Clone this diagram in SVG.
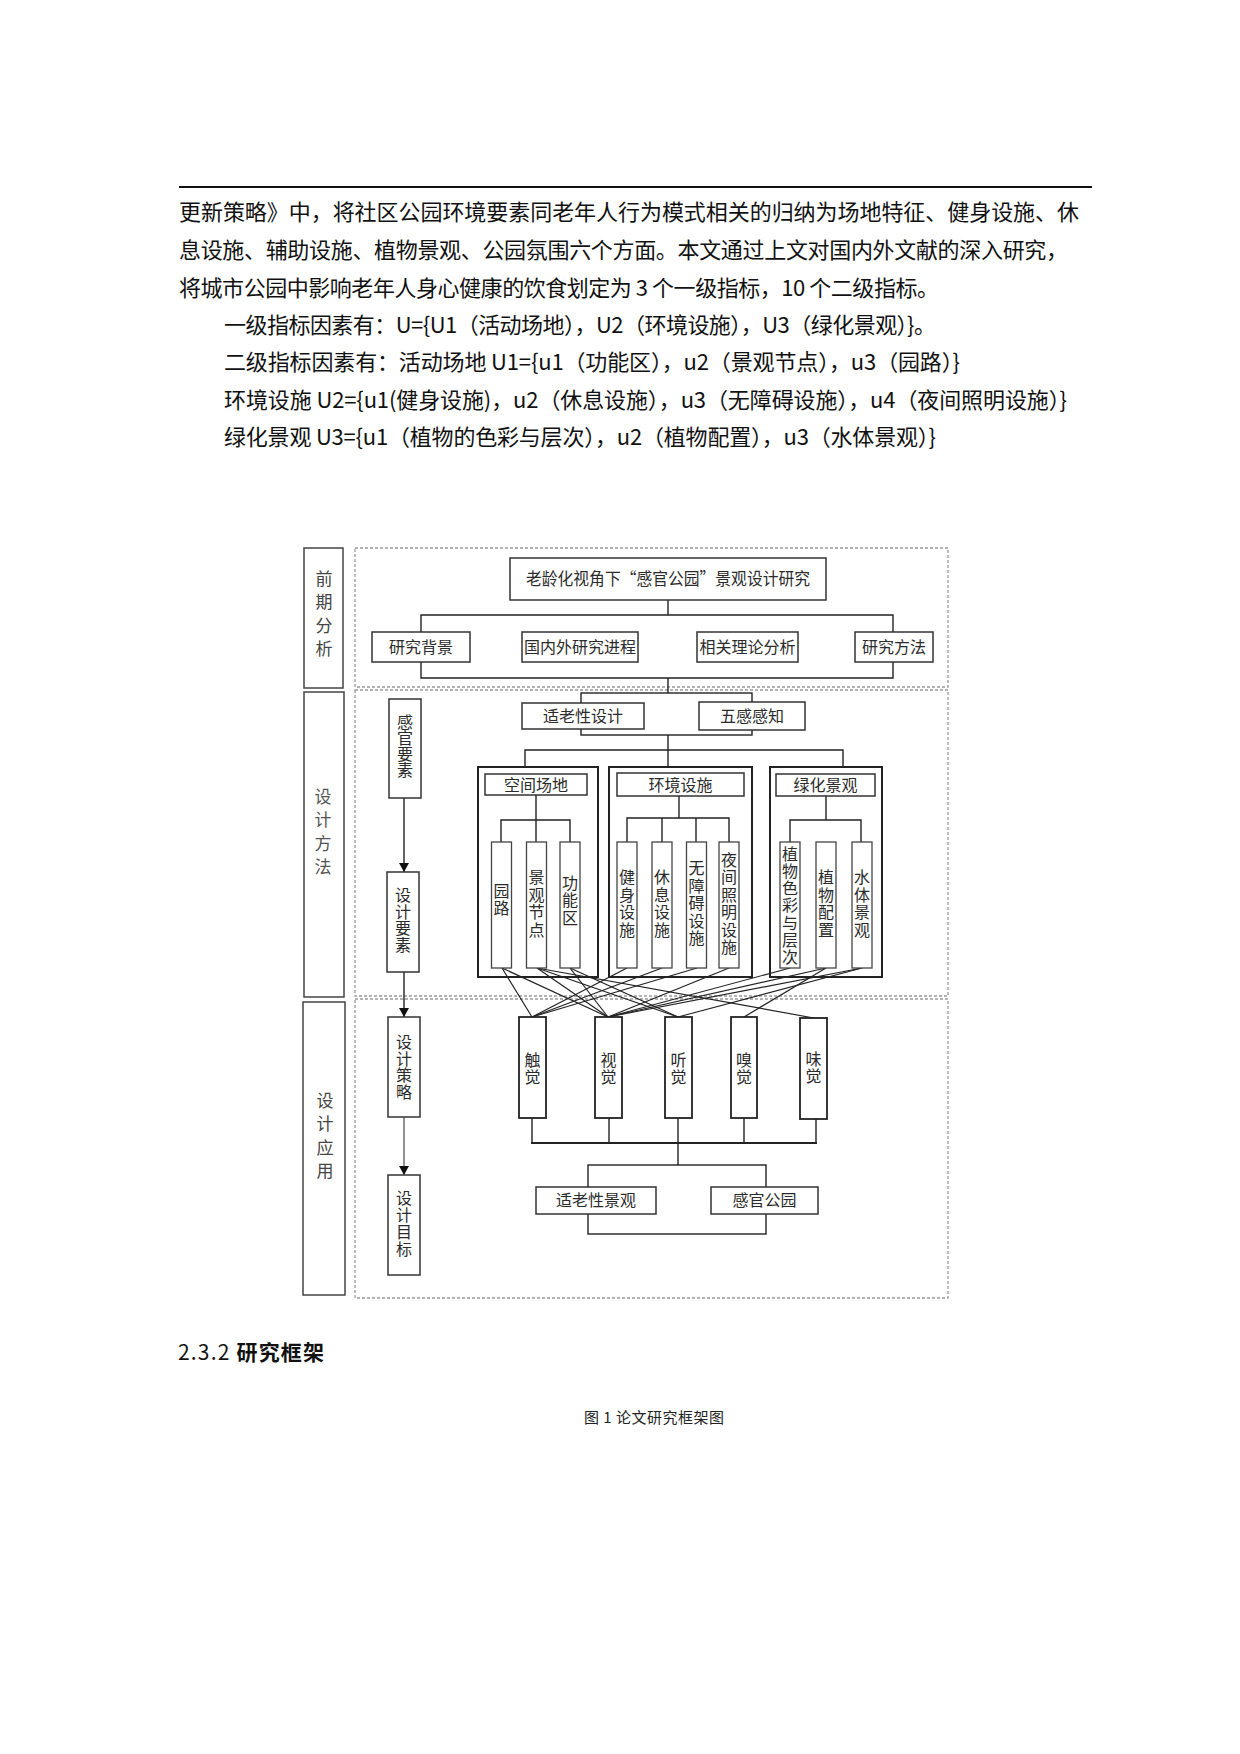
<svg xmlns="http://www.w3.org/2000/svg" width="1240" height="1754" viewBox="0 0 1240 1754">
<style>
.p{font-family:"Noto Sans CJK SC","Noto Sans",sans-serif;font-size:22px;fill:#111}
.t{font-family:"Noto Sans CJK SC","Noto Sans",sans-serif;font-size:16px;fill:#2b2b2b;text-anchor:middle}
.v{font-family:"Noto Sans CJK SC","Noto Sans",sans-serif;font-size:16px;fill:#2b2b2b;text-anchor:middle;writing-mode:vertical-rl;letter-spacing:1.5px}
.lab{font-family:"Noto Sans CJK SC","Noto Sans",sans-serif;font-size:17px;fill:#444;text-anchor:middle;writing-mode:vertical-rl;letter-spacing:6.5px}
.box{fill:#fff;stroke:#333;stroke-width:1.5}
.sub{fill:#fff;stroke:#444;stroke-width:1.3}
.grp{fill:none;stroke:#222;stroke-width:2}
.sense{fill:#fff;stroke:#222;stroke-width:1.8}
.side{fill:none;stroke:#444;stroke-width:1.5}
.dash{fill:none;stroke:#9a9a9a;stroke-width:1.3;stroke-dasharray:3 2}
.ln{fill:none;stroke:#222;stroke-width:1.4}
.x{fill:none;stroke:#222;stroke-width:1.2}
</style>
<defs>
<marker id="ah" markerWidth="9" markerHeight="10" refX="9" refY="5" orient="auto" markerUnits="userSpaceOnUse" viewBox="0 0 9 10">
<path d="M0,0 L9,5 L0,10 Z" fill="#111"/>
</marker>
</defs>
<rect x="0" y="0" width="1240" height="1754" fill="#fff"/>

<g id="paragraph">
<line x1="179" y1="187" x2="1092" y2="187" stroke="#111" stroke-width="2"/>
<text class="p" x="179" y="220" textLength="900" lengthAdjust="spacing">更新策略》中，将社区公园环境要素同老年人行为模式相关的归纳为场地特征、健身设施、休</text>
<text class="p" x="179" y="258" textLength="889" lengthAdjust="spacing">息设施、辅助设施、植物景观、公园氛围六个方面。本文通过上文对国内外文献的深入研究，</text>
<text class="p" x="179" y="296" textLength="760" lengthAdjust="spacing">将城市公园中影响老年人身心健康的饮食划定为 3 个一级指标，10 个二级指标。</text>
<text class="p" x="224" y="333" textLength="712" lengthAdjust="spacing">一级指标因素有：U={U1（活动场地），U2（环境设施），U3（绿化景观）}。</text>
<text class="p" x="224" y="370" textLength="736" lengthAdjust="spacing">二级指标因素有：活动场地 U1={u1（功能区），u2（景观节点），u3（园路）}</text>
<text class="p" x="224" y="408" textLength="843" lengthAdjust="spacing">环境设施 U2={u1(健身设施)，u2（休息设施），u3（无障碍设施），u4（夜间照明设施）}</text>
<text class="p" x="224" y="445" textLength="712" lengthAdjust="spacing">绿化景观 U3={u1（植物的色彩与层次），u2（植物配置），u3（水体景观）}</text>
</g>

<g id="sections">
<rect class="dash" x="355" y="548" width="593" height="139"/>
<rect class="dash" x="355" y="690" width="593" height="306"/>
<rect class="dash" x="355" y="999" width="593" height="299"/>
</g>

<g id="stage-qianqi">
<rect class="side" x="304" y="548" width="39" height="140"/>
<text class="lab" x="324" y="617">前期分析</text>
</g>
<g id="stage-sheji-fangfa">
<rect class="side" x="304" y="692" width="40" height="305"/>
<text class="lab" x="323" y="835" style="fill:#555">设计方法</text>
</g>
<g id="stage-sheji-yingyong">
<rect class="side" x="303" y="1002" width="42" height="293"/>
<text class="lab" x="325" y="1139">设计应用</text>
</g>

<g id="connectors">
<line class="ln" x1="668" y1="600" x2="668" y2="615"/>
<polyline class="ln" points="421,632 421,615 893,615 893,632"/>
<polyline class="ln" points="421,662 421,678 893,678 893,662"/>
<line class="ln" x1="668" y1="678" x2="668" y2="693"/>
<rect class="ln" x="581" y="693" width="171" height="42"/>
<line class="ln" x1="668" y1="735" x2="668" y2="750"/>
<polyline class="ln" points="525,767 525,750 843,750 843,767"/>
<line class="ln" x1="668" y1="750" x2="668" y2="767"/>
<line class="ln" x1="536" y1="795" x2="536" y2="842"/>
<polyline class="ln" points="501,842 501,820 570,820 570,842"/>
<line class="ln" x1="679" y1="796" x2="679" y2="818"/>
<polyline class="ln" points="627,842 627,818 729,818 729,842"/>
<line class="ln" x1="662" y1="818" x2="662" y2="842"/>
<line class="ln" x1="696" y1="818" x2="696" y2="842"/>
<line class="ln" x1="826" y1="796" x2="826" y2="820"/>
<polyline class="ln" points="790,842 790,820 861,820 861,842"/>
<line class="ln" x1="404" y1="798" x2="404" y2="872" marker-end="url(#ah)"/>
<line class="ln" x1="404" y1="972" x2="404" y2="1017" marker-end="url(#ah)"/>
<line x1="404" y1="1117" x2="404" y2="1175" stroke="#777" stroke-width="1.6" marker-end="url(#ah)"/>
<line class="x" x1="502" y1="968" x2="532" y2="1017"/>
<line class="x" x1="502" y1="968" x2="608" y2="1017"/>
<line class="x" x1="537" y1="968" x2="608" y2="1017"/>
<line class="x" x1="537" y1="968" x2="678" y2="1017"/>
<line class="x" x1="537" y1="968" x2="814" y2="1018"/>
<line class="x" x1="570" y1="968" x2="608" y2="1017"/>
<line class="x" x1="570" y1="968" x2="678" y2="1017"/>
<line class="x" x1="627" y1="968" x2="532" y2="1017"/>
<line class="x" x1="662" y1="968" x2="532" y2="1017"/>
<line class="x" x1="697" y1="968" x2="532" y2="1017"/>
<line class="x" x1="729" y1="968" x2="608" y2="1017"/>
<line class="x" x1="790" y1="968" x2="608" y2="1017"/>
<line class="x" x1="826" y1="968" x2="608" y2="1017"/>
<line class="x" x1="826" y1="968" x2="744" y2="1017"/>
<line class="x" x1="862" y1="968" x2="608" y2="1017"/>
<line class="x" x1="862" y1="968" x2="678" y2="1017"/>
<line class="ln" x1="532" y1="1118" x2="532" y2="1143"/>
<line class="ln" x1="609" y1="1118" x2="609" y2="1143"/>
<line class="ln" x1="678" y1="1118" x2="678" y2="1165"/>
<line class="ln" x1="744" y1="1118" x2="744" y2="1143"/>
<line class="ln" x1="816" y1="1119" x2="816" y2="1143"/>
<line x1="531" y1="1143" x2="817" y2="1143" stroke="#222" stroke-width="2.2"/>
<rect class="ln" x="588" y="1165" width="178" height="69"/>
</g>

<g id="n-title">
<rect class="box" x="510" y="558" width="316" height="42"/>
<text class="t" x="668" y="585" style="font-size:17px" textLength="284" lengthAdjust="spacingAndGlyphs">老龄化视角下“感官公园”景观设计研究</text>
</g>
<g id="n-bg"><rect class="box" x="372" y="632" width="98" height="30"/><text class="t" x="421" y="653">研究背景</text></g>
<g id="n-prog"><rect class="box" x="522" y="632" width="116" height="30"/><text class="t" x="580" y="653">国内外研究进程</text></g>
<g id="n-theory"><rect class="box" x="697" y="632" width="101" height="30"/><text class="t" x="747.5" y="653">相关理论分析</text></g>
<g id="n-method"><rect class="box" x="855" y="632" width="78" height="30"/><text class="t" x="894" y="653">研究方法</text></g>

<g id="n-shilao"><rect class="box" x="522" y="703" width="122" height="26"/><text class="t" x="583" y="722">适老性设计</text></g>
<g id="n-wugan"><rect class="box" x="699" y="702" width="106" height="28"/><text class="t" x="752" y="722">五感感知</text></g>

<g id="n-ganguan-yaosu"><rect class="box" x="389" y="699" width="32" height="99"/><text class="v" x="405" y="746" style="letter-spacing:0">感官要素</text></g>
<g id="n-sheji-yaosu"><rect class="box" x="387" y="872" width="32" height="100"/><text class="v" x="403" y="920" style="letter-spacing:0.5px">设计要素</text></g>
<g id="n-sheji-celue"><rect class="box" x="388" y="1017" width="32" height="100"/><text class="v" x="404" y="1067" style="letter-spacing:0.5px">设计策略</text></g>
<g id="n-sheji-mubiao"><rect class="box" x="388" y="1175" width="32" height="100"/><text class="v" x="404" y="1224" style="letter-spacing:1px">设计目标</text></g>

<g id="g-kongjian">
<rect class="grp" x="478" y="767" width="120" height="210"/>
<rect class="box" x="485" y="774" width="102" height="21"/>
<text class="t" x="536" y="791">空间场地</text>
</g>
<g id="g-huanjing">
<rect class="grp" x="609" y="767" width="143" height="210"/>
<rect class="box" x="617" y="773" width="127" height="23"/>
<text class="t" x="680.5" y="791">环境设施</text>
</g>
<g id="g-lvhua">
<rect class="grp" x="770" y="767" width="112" height="210"/>
<rect class="box" x="776" y="774" width="99" height="22"/>
<text class="t" x="825.5" y="791">绿化景观</text>
</g>

<g id="n-yuanlu"><rect class="sub" x="491.5" y="842" width="20" height="126"/><text class="v" x="501.5" y="900">园路</text></g>
<g id="n-jingguan"><rect class="sub" x="526.5" y="842" width="20" height="126"/><text class="v" x="536.5" y="904">景观节点</text></g>
<g id="n-gongneng"><rect class="sub" x="560" y="842" width="20" height="126"/><text class="v" x="570" y="901">功能区</text></g>
<g id="n-jianshen"><rect class="sub" x="617" y="842" width="20" height="126"/><text class="v" x="627" y="904">健身设施</text></g>
<g id="n-xiuxi"><rect class="sub" x="652" y="842" width="20" height="126"/><text class="v" x="662" y="904">休息设施</text></g>
<g id="n-wuzhangai"><rect class="sub" x="686.5" y="842" width="20" height="126"/><text class="v" x="696.5" y="904">无障碍设施</text></g>
<g id="n-yejian"><rect class="sub" x="719" y="842" width="20" height="126"/><text class="v" x="729" y="904">夜间照明设施</text></g>
<g id="n-secai"><rect class="sub" x="780" y="842" width="20" height="126"/><text class="v" x="790" y="906" style="letter-spacing:1.3px">植物色彩与层次</text></g>
<g id="n-peizhi"><rect class="sub" x="816" y="842" width="20" height="126"/><text class="v" x="826" y="904">植物配置</text></g>
<g id="n-shuiti"><rect class="sub" x="852" y="842" width="20" height="126"/><text class="v" x="862" y="904">水体景观</text></g>

<g id="n-chujue"><rect class="sense" x="519" y="1017" width="27" height="101"/><text class="v" x="532.5" y="1069" style="letter-spacing:1px">触觉</text></g>
<g id="n-shijue"><rect class="sense" x="595" y="1017" width="27" height="101"/><text class="v" x="608.5" y="1069" style="letter-spacing:1px">视觉</text></g>
<g id="n-tingjue"><rect class="sense" x="665" y="1017" width="27" height="101"/><text class="v" x="678.5" y="1069" style="letter-spacing:1px">听觉</text></g>
<g id="n-xiujue"><rect class="sense" x="731" y="1017" width="26" height="101"/><text class="v" x="744" y="1069" style="letter-spacing:1px">嗅觉</text></g>
<g id="n-weijue"><rect class="sense" x="800" y="1018" width="27" height="101"/><text class="v" x="813.5" y="1068" style="letter-spacing:1px">味觉</text></g>

<g id="n-shilao-jingguan"><rect class="box" x="536" y="1187" width="120" height="27"/><text class="t" x="596" y="1206">适老性景观</text></g>
<g id="n-ganguan-gongyuan"><rect class="box" x="711" y="1187" width="107" height="27"/><text class="t" x="764.5" y="1206">感官公园</text></g>

<g id="captions">
<text x="178" y="1360" style="font-family:'Noto Sans CJK SC',sans-serif;font-size:21px;fill:#111" textLength="146" lengthAdjust="spacing">2.3.2 <tspan style="font-weight:700">研究框架</tspan></text>
<text x="584" y="1423" style="font-family:'Noto Sans CJK SC',sans-serif;font-size:15px;fill:#222" textLength="140" lengthAdjust="spacing">图 1 论文研究框架图</text>
</g>
</svg>
